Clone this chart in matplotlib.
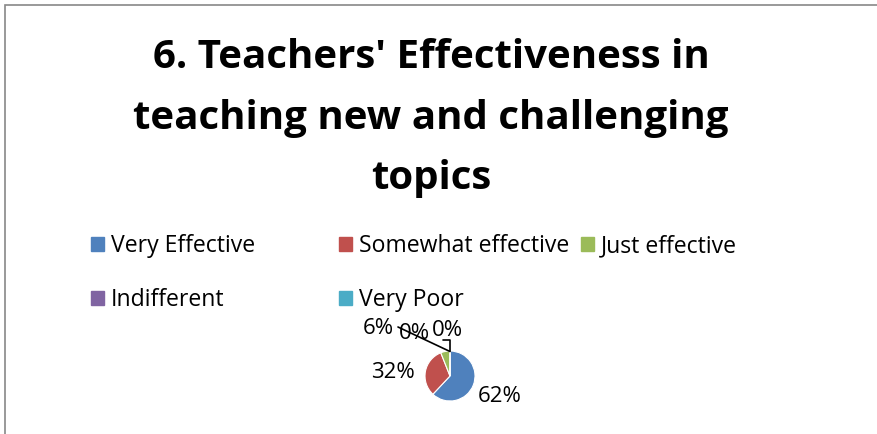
import numpy as np
import matplotlib.pyplot as plt
from matplotlib.patches import Rectangle

categories = ["Very Effective", "Somewhat effective", "Just effective", "Indifferent", "Very Poor"]
values = [62, 32, 6, 0, 0]
colors = ["#4f81bd", "#c0504d", "#9bbb59", "#8064a2", "#4bacc6"]
title = "6. Teachers' Effectiveness in\nteaching new and challenging\ntopics"

W, H = 878, 434
plt.rcParams['font.family'] = ['Open Sans', 'DejaVu Sans']
fig = plt.figure(figsize=(W / 100, H / 100), dpi=100)

# chart border (only top and left edges are in view)
fig.patches.append(Rectangle((5 / W, -0.1), 1.2, (H - 5) / H + 0.1, transform=fig.transFigure,
                             fill=False, edgecolor="#888888", lw=1.2))

fig.text(431 / W, 1 - 118 / H, title, ha="center", va="center", fontsize=29,
         fontweight="bold", linespacing=1.7)

# legend: Excel lays it out row by row in equal-width columns
col_x = [91, 339, 581]
for col, x in enumerate(col_x):
    idx = list(range(col, len(categories), 3))
    handles = [Rectangle((0, 0), 1, 1, color=colors[i]) for i in idx]
    fig.legend(handles, [categories[i] for i in idx], loc="upper left",
               bbox_to_anchor=(x / W, 1 - 234 / H), frameon=False, fontsize=16.6,
               handlelength=0.55, handleheight=0.55, handletextpad=0.3,
               labelspacing=1.3, borderaxespad=0, borderpad=0)

# pie
cx, cy, r = 450, 376, 25
ax = fig.add_axes([(cx - 4 * r) / W, 1 - (cy + 2 * r) / H, 8 * r / W, 4 * r / H])
wedges, _ = ax.pie(values, colors=colors, startangle=90, counterclock=False,
                   wedgeprops=dict(linewidth=0.8, edgecolor="white"))
ax.set_xlim(-4, 4)
ax.set_ylim(-2, 2)
ax.set_aspect("equal")
ax.axis("off")

label_pos = [(2.0, -0.8), (-2.28, 0.12), (-2.88, 1.88), (-1.44, 1.7), (-0.12, 1.82)]
# where the leader line leaves each small label (offset from the label, in radii)
leader_start = {3: ((-0.64, 0.26), "arc3"), 4: ((-0.16, -0.38), "angle,angleA=0,angleB=90,rad=0")}
for k, (w, v, (tx, ty)) in enumerate(zip(wedges, values, label_pos)):
    ang = np.deg2rad((w.theta1 + w.theta2) / 2)
    tip = (0.98 * np.cos(ang), 0.98 * np.sin(ang))
    if k in leader_start:
        (dx, dy), style = leader_start[k]
        ax.annotate("", xy=tip, xytext=(tx + dx, ty + dy), annotation_clip=False,
                    arrowprops=dict(arrowstyle="-", color="black", lw=1.2,
                                    shrinkA=0, shrinkB=0, connectionstyle=style))
    ax.text(tx, ty, f"{v}%", ha="center", va="center", fontsize=16, clip_on=False)

fig.savefig("out.png", dpi=100)
